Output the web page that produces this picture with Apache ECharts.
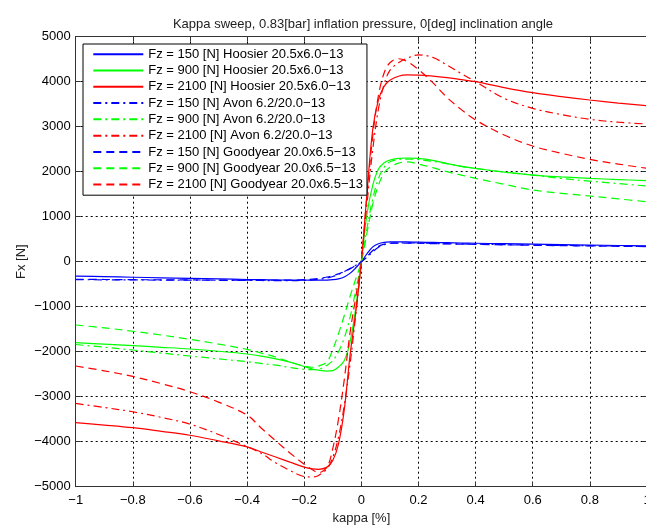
<!DOCTYPE html>
<html><head><meta charset="utf-8">
<script src="https://cdn.jsdelivr.net/npm/echarts@6/dist/echarts.min.js"></script>
<style>html,body{margin:0;padding:0;background:#fff}#c{width:646px;height:528px}</style>
</head><body><div id="c"></div>
<script>
// kappa sample points [%]
const kappa = [-1,-0.9,-0.8,-0.7,-0.6,-0.5,-0.4,-0.35,-0.3,-0.25,-0.2,-0.17,-0.15,-0.12,-0.1,-0.08,-0.06,-0.04,-0.02,0,0.02,0.04,0.06,0.08,0.1,0.13,0.16,0.2,0.25,0.3,0.35,0.4,0.5,0.6,0.7,0.8,0.9,1.0];

// Fx [N]
const hoosier150 = [-320,-333,-345,-358,-370,-383,-395,-400,-405,-408,-410,-410,-410,-408,-400,-380,-340,-260,-140,0,180,330,400,430,440,442,440,435,428,422,416,410,400,390,380,370,360,350];
const hoosier900 = [-1800,-1833,-1866,-1902,-1940,-1990,-2051,-2100,-2160,-2230,-2330,-2385,-2410,-2430,-2420,-2340,-2200,-1800,-1050,0,1070,1700,2060,2200,2260,2295,2305,2296,2250,2180,2120,2074,1990,1926,1885,1852,1825,1800];
const hoosier2100 = [-3577,-3630,-3689,-3770,-3856,-3980,-4115,-4230,-4340,-4455,-4565,-4605,-4615,-4565,-4420,-4050,-3300,-2100,-1150,0,1550,2950,3600,3900,4030,4120,4150,4148,4125,4090,4045,4000,3870,3756,3670,3593,3525,3467];
const avon150 = [-400,-402,-405,-408,-410,-413,-415,-418,-420,-420,-415,-405,-390,-360,-330,-280,-220,-150,-80,0,100,220,320,380,410,420,420,415,405,400,395,390,380,370,362,355,347,340];
const avon900 = [-1840,-1900,-1962,-2030,-2096,-2160,-2222,-2260,-2300,-2350,-2392,-2400,-2390,-2300,-2200,-2000,-1700,-1250,-650,0,750,1400,1850,2100,2220,2270,2280,2270,2230,2180,2120,2074,1990,1926,1850,1790,1735,1682];
const avon2100 = [-3150,-3240,-3335,-3460,-3610,-3840,-4110,-4260,-4470,-4640,-4775,-4785,-4750,-4600,-4350,-3900,-3200,-2300,-1200,0,1300,2500,3400,3950,4250,4420,4520,4595,4540,4370,4180,4000,3630,3407,3270,3163,3100,3060];
const goodyear150 = [-390,-395,-400,-402,-405,-408,-410,-411,-412,-410,-400,-385,-370,-340,-310,-270,-220,-160,-85,0,120,250,340,390,410,415,415,410,402,395,390,385,375,365,357,350,342,335];
const goodyear900 = [-1407,-1470,-1545,-1630,-1725,-1830,-1948,-2030,-2120,-2230,-2320,-2345,-2320,-2220,-1950,-1600,-1200,-780,-390,0,650,1280,1700,1980,2100,2190,2220,2170,2090,2000,1925,1852,1720,1593,1520,1460,1395,1333];
const goodyear2100 = [-2318,-2425,-2550,-2710,-2889,-3120,-3410,-3700,-3980,-4250,-4500,-4630,-4690,-4560,-4150,-3500,-2630,-1600,-800,0,1500,2800,3700,4200,4420,4510,4450,4270,3980,3650,3380,3148,2815,2570,2410,2274,2170,2074];

const names = [
  'Fz = 150 [N] Hoosier 20.5x6.0\u221213',
  'Fz = 900 [N] Hoosier 20.5x6.0\u221213',
  'Fz = 2100 [N] Hoosier 20.5x6.0\u221213',
  'Fz = 150 [N] Avon 6.2/20.0\u221213',
  'Fz = 900 [N] Avon 6.2/20.0\u221213',
  'Fz = 2100 [N] Avon 6.2/20.0\u221213',
  'Fz = 150 [N] Goodyear 20.0x6.5\u221213',
  'Fz = 900 [N] Goodyear 20.0x6.5\u221213',
  'Fz = 2100 [N] Goodyear 20.0x6.5\u221213'
];
const values = [hoosier150,hoosier900,hoosier2100,avon150,avon900,avon2100,goodyear150,goodyear900,goodyear2100];

const colors = ['#0000ff','#00ff00','#ff0000'];
const dashes = ['solid',[8,4,2,4],[8,5]];
const FONT = '"Liberation Sans", Arial, sans-serif';
const minus = s => String(s).replace('-', '\u2212');

const series = values.map((arr,i)=>({
  name: names[i],
  type: 'line',
  data: kappa.map((k,j)=>[k, arr[j]]),
  symbol: 'none',
  smooth: 0.35,
  lineStyle: {color: colors[i%3], width: 1.2, type: dashes[Math.floor(i/3)]},
  itemStyle: {color: colors[i%3]},
  emphasis: {disabled: true},
  animation: false
}));

const chart = echarts.init(document.getElementById('c'), null, {renderer:'canvas'});
chart.setOption({
  backgroundColor: '#fff',
  animation: false,
  title: {
    text: 'Kappa sweep, 0.83[bar] inflation pressure, 0[deg] inclination angle',
    left: 358, top: 13, textAlign: 'center',
    textStyle: {fontFamily: FONT, fontSize: 13, fontWeight: 'normal', color: '#222'}
  },
  grid: {left: 75.7, right: -1, top: 36.7, bottom: 41.3, containLabel: false, outerBoundsMode: 'none'},
  legend: {
    data: names, orient: 'vertical', left: 83, top: 44,
    itemWidth: 50, itemHeight: 14, itemGap: 0,
    padding: [2,4,2.5,9.3],
    borderColor: '#000', borderWidth: 1, backgroundColor: '#fff',
    selectedMode: false,
    itemStyle: {opacity: 0},
    textStyle: {fontFamily: FONT, fontSize: 13, lineHeight: 16.3, color: '#000'}
  },
  xAxis: [{
    type: 'value', min: -1, max: 1, interval: 0.2,
    name: 'kappa [%]', nameLocation: 'middle', nameGap: 25,
    nameTextStyle: {fontFamily: FONT, fontSize: 13, color: '#222'},
    axisLine: {onZero: false, lineStyle: {color: '#333', width: 1}},
    axisTick: {inside: true, length: 5, lineStyle: {color: '#333'}},
    axisLabel: {fontFamily: FONT, fontSize: 13, color: '#000', margin: 7,
      formatter: v => minus(+(+v).toFixed(1))},
    splitLine: {show: true, lineStyle: {color: '#000', type: [2,3], width: 1}}
  },{
    type: 'value', position: 'top', min: -1, max: 1, interval: 0.2,
    axisLine: {onZero: false, lineStyle: {color: '#333', width: 1}},
    axisTick: {inside: true, length: 5, lineStyle: {color: '#333'}},
    axisLabel: {show: false}, splitLine: {show: false}
  }],
  yAxis: [{
    type: 'value', min: -5000, max: 5000, interval: 1000,
    name: 'Fx [N]', nameLocation: 'middle', nameGap: 48, nameRotate: 90,
    nameMoveOverlap: false,
    nameTextStyle: {fontFamily: FONT, fontSize: 13, color: '#222'},
    axisLine: {show: true, onZero: false, lineStyle: {color: '#333', width: 1}},
    axisTick: {show: true, inside: true, length: 5, lineStyle: {color: '#333'}},
    axisLabel: {fontFamily: FONT, fontSize: 13, color: '#000', margin: 5,
      formatter: v => minus(v)},
    splitLine: {show: true, lineStyle: {color: '#000', type: [2,3], width: 1}}
  },{
    type: 'value', position: 'right', min: -5000, max: 5000, interval: 1000,
    axisLine: {show: true, onZero: false, lineStyle: {color: '#333', width: 1}},
    axisTick: {show: true, inside: true, length: 5, lineStyle: {color: '#333'}},
    axisLabel: {show: false}, splitLine: {show: false}
  }],
  series: series
});
</script>
</body></html>
